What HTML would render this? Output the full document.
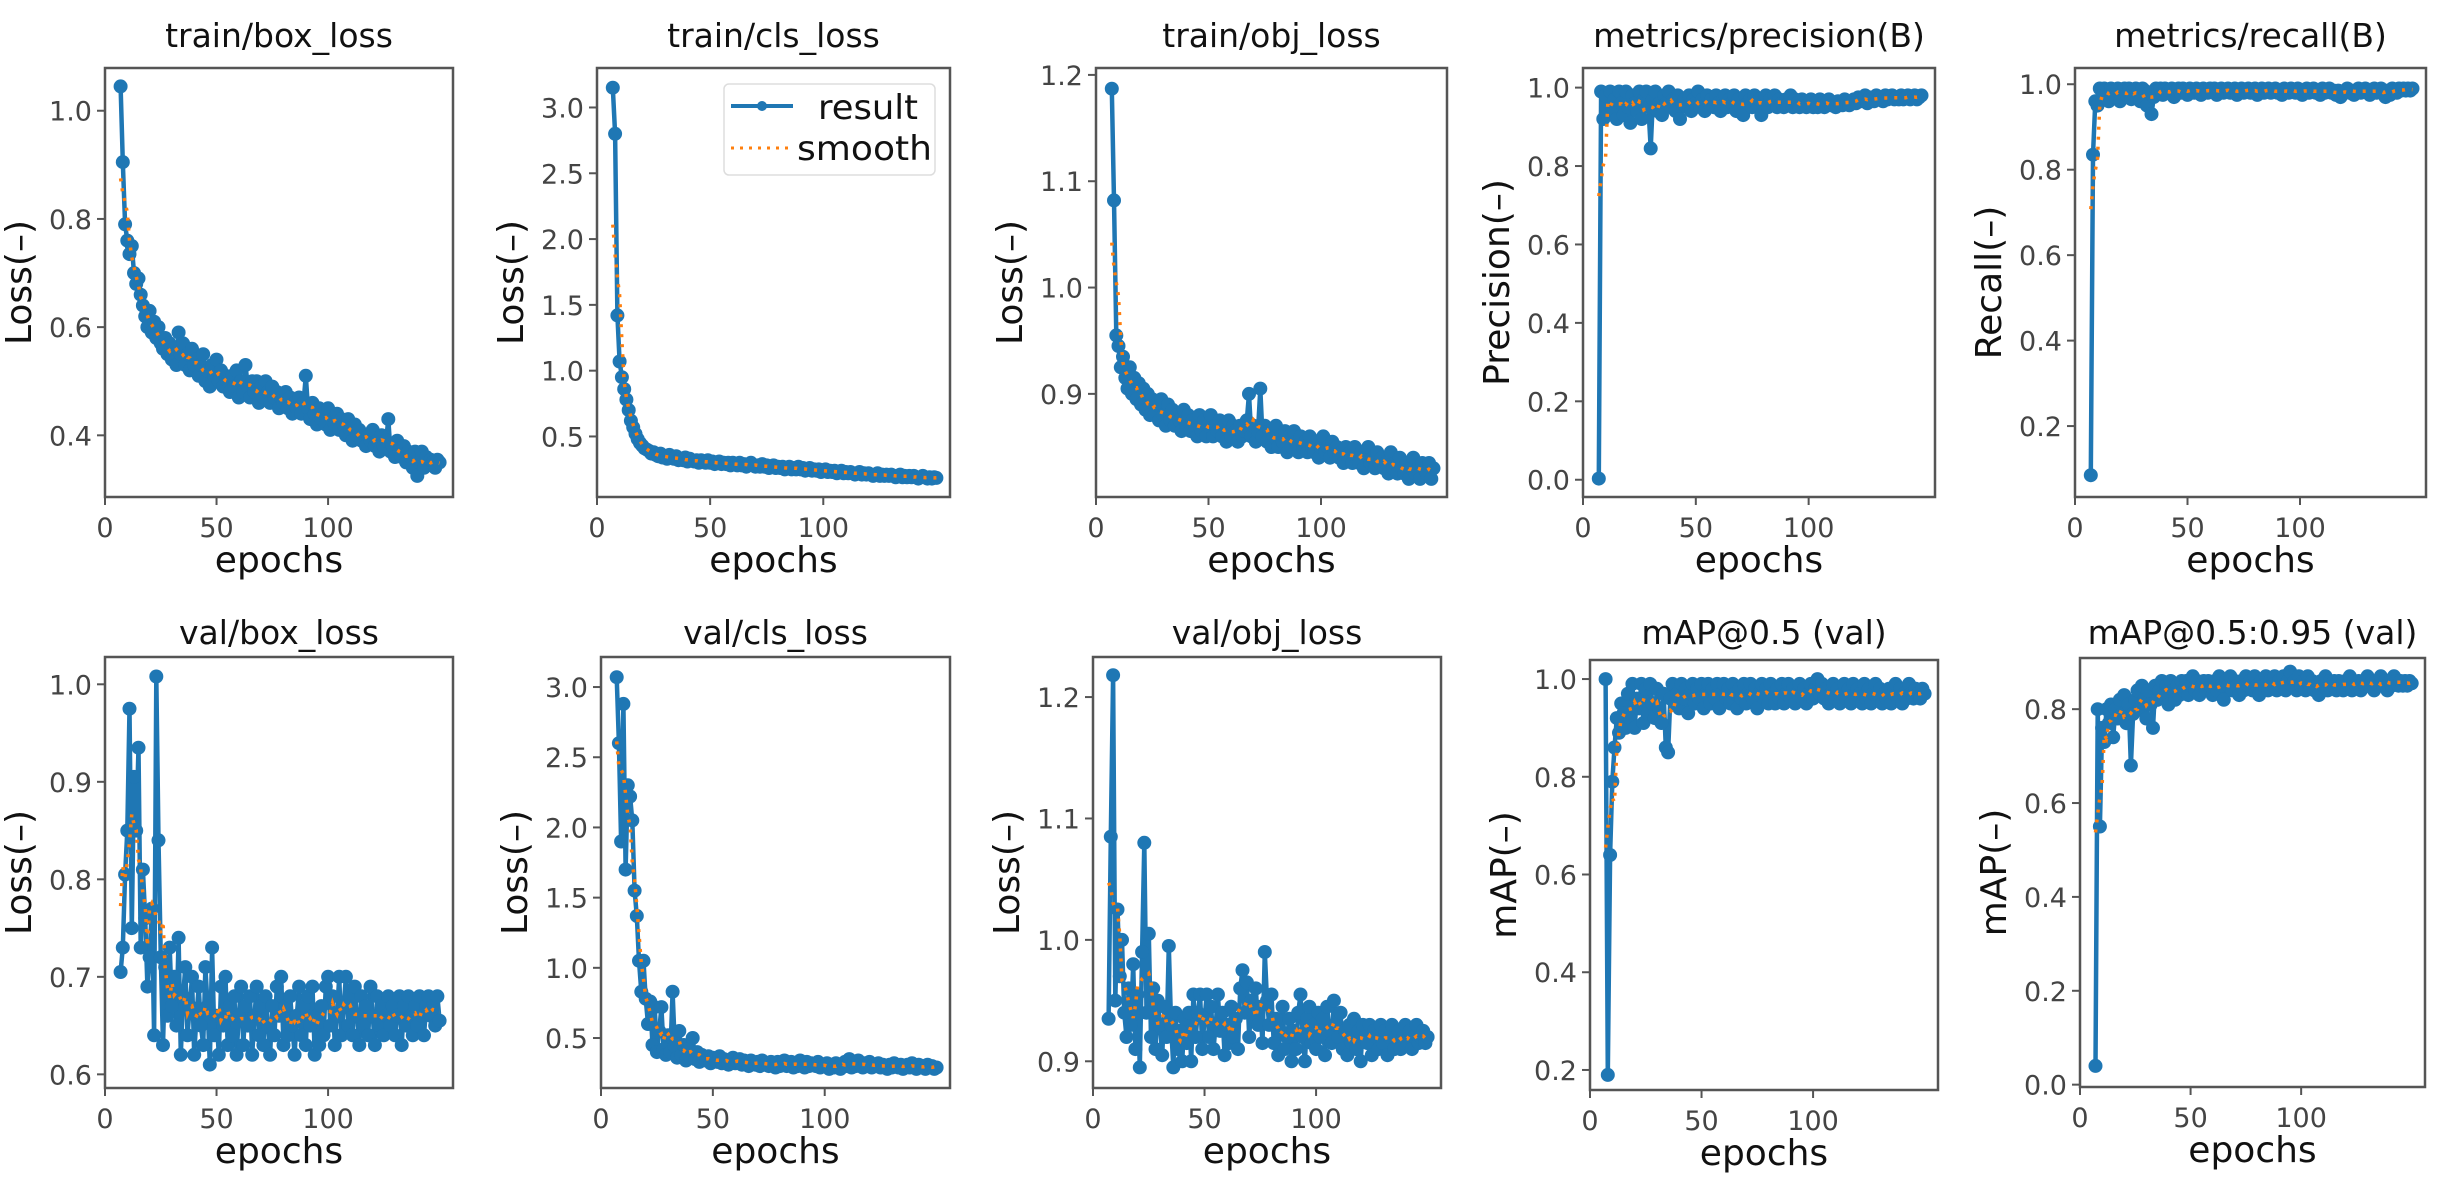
<!DOCTYPE html>
<html><head><meta charset="utf-8"><style>
html,body{margin:0;padding:0;background:#fff;}
svg{display:block;font-family:"DejaVu Sans","Liberation Sans",sans-serif;}
</style></head><body>
<svg id="fig" width="2438" height="1182" viewBox="0 0 2438 1182" xmlns="http://www.w3.org/2000/svg"></svg>
<script>
const epochs = []; for (let e = 7; e <= 150; e++) epochs.push(e);
const xTicks = [0, 50, 100];
const titles = ["train/box_loss","train/cls_loss","train/obj_loss","metrics/precision(B)","metrics/recall(B)","val/box_loss","val/cls_loss","val/obj_loss","mAP@0.5 (val)","mAP@0.5:0.95 (val)"];
const yLabels = ["Loss(–)","Loss(–)","Loss(–)","Precision(–)","Recall(–)","Loss(–)","Loss(–)","Loss(–)","mAP(–)","mAP(–)"];
const yTicks = [[0.4,0.6,0.8,1.0],[0.5,1.0,1.5,2.0,2.5,3.0],[0.9,1.0,1.1,1.2],[0.0,0.2,0.4,0.6,0.8,1.0],[0.2,0.4,0.6,0.8,1.0],[0.6,0.7,0.8,0.9,1.0],[0.5,1.0,1.5,2.0,2.5,3.0],[0.9,1.0,1.1,1.2],[0.2,0.4,0.6,0.8,1.0],[0.0,0.2,0.4,0.6,0.8]];
const yTickText = [["0.4","0.6","0.8","1.0"],["0.5","1.0","1.5","2.0","2.5","3.0"],["0.9","1.0","1.1","1.2"],["0.0","0.2","0.4","0.6","0.8","1.0"],["0.2","0.4","0.6","0.8","1.0"],["0.6","0.7","0.8","0.9","1.0"],["0.5","1.0","1.5","2.0","2.5","3.0"],["0.9","1.0","1.1","1.2"],["0.2","0.4","0.6","0.8","1.0"],["0.0","0.2","0.4","0.6","0.8"]];

const trainBoxLoss = [1.045,0.905,0.79,0.76,0.735,0.75,0.70,0.68,0.69,0.66,
0.64,0.62,0.60,0.63,0.59,0.61,0.58,0.60,0.57,0.56,
0.58,0.55,0.57,0.54,0.56,0.53,0.59,0.55,0.57,0.53,
0.55,0.52,0.56,0.53,0.54,0.51,0.53,0.55,0.50,0.52,
0.49,0.53,0.51,0.54,0.50,0.52,0.49,0.51,0.50,0.48,
0.51,0.49,0.52,0.47,0.50,0.48,0.53,0.49,0.47,0.50,
0.48,0.50,0.46,0.49,0.47,0.50,0.48,0.46,0.49,0.47,
0.48,0.45,0.47,0.46,0.48,0.45,0.47,0.44,0.46,0.45,
0.47,0.44,0.46,0.51,0.45,0.43,0.46,0.44,0.42,0.45,
0.43,0.44,0.42,0.45,0.41,0.43,0.42,0.44,0.41,0.43,
0.42,0.40,0.43,0.41,0.39,0.42,0.40,0.41,0.39,0.40,
0.38,0.40,0.39,0.41,0.38,0.39,0.37,0.40,0.38,0.39,
0.43,0.37,0.38,0.36,0.39,0.37,0.36,0.38,0.35,0.37,
0.36,0.34,0.37,0.325,0.35,0.37,0.34,0.36,0.345,0.355,
0.35,0.34,0.355,0.35];
const trainClsLoss = [3.15,2.80,1.42,1.07,0.95,0.86,0.78,0.70,0.62,0.57,
0.52,0.48,0.45,0.43,0.41,0.40,0.39,0.37,0.38,0.36,
0.35,0.37,0.34,0.35,0.33,0.36,0.34,0.33,0.35,0.32,
0.33,0.32,0.34,0.31,0.33,0.32,0.31,0.32,0.30,0.32,
0.31,0.30,0.32,0.30,0.31,0.29,0.30,0.31,0.29,0.30,
0.29,0.30,0.28,0.30,0.29,0.28,0.30,0.28,0.29,0.27,
0.29,0.30,0.28,0.27,0.28,0.27,0.29,0.27,0.28,0.26,
0.27,0.28,0.26,0.27,0.26,0.27,0.25,0.26,0.27,0.25,
0.26,0.25,0.27,0.25,0.26,0.24,0.25,0.26,0.24,0.25,
0.24,0.25,0.23,0.24,0.25,0.23,0.24,0.23,0.24,0.22,
0.23,0.24,0.22,0.23,0.22,0.23,0.22,0.21,0.22,0.23,
0.21,0.22,0.21,0.22,0.21,0.20,0.21,0.22,0.20,0.21,
0.20,0.21,0.20,0.21,0.20,0.19,0.20,0.21,0.19,0.20,
0.19,0.20,0.19,0.20,0.19,0.18,0.19,0.20,0.19,0.18,
0.19,0.18,0.19,0.185];
const trainObjLoss = [1.187,1.082,0.955,0.945,0.925,0.935,0.915,0.905,0.925,0.90,
0.915,0.895,0.91,0.89,0.905,0.885,0.90,0.88,0.895,0.88,
0.89,0.875,0.895,0.88,0.87,0.89,0.875,0.885,0.87,0.88,
0.875,0.865,0.885,0.87,0.88,0.865,0.875,0.87,0.86,0.88,
0.865,0.875,0.86,0.87,0.88,0.86,0.87,0.865,0.875,0.86,
0.87,0.855,0.875,0.86,0.87,0.865,0.855,0.87,0.86,0.865,
0.875,0.90,0.86,0.87,0.855,0.865,0.905,0.86,0.87,0.855,
0.865,0.85,0.86,0.87,0.85,0.86,0.855,0.865,0.845,0.86,
0.85,0.865,0.855,0.845,0.86,0.85,0.855,0.845,0.86,0.85,
0.845,0.855,0.84,0.85,0.86,0.845,0.85,0.84,0.855,0.845,
0.85,0.84,0.845,0.835,0.85,0.84,0.845,0.835,0.85,0.84,
0.835,0.845,0.83,0.84,0.85,0.835,0.84,0.83,0.845,0.835,
0.84,0.83,0.835,0.825,0.845,0.83,0.835,0.825,0.84,0.83,
0.825,0.835,0.82,0.83,0.84,0.825,0.83,0.82,0.835,0.83,
0.825,0.835,0.82,0.83];
const precision = [0.003,0.99,0.92,0.98,0.93,0.99,0.95,0.97,0.92,0.99,
0.96,0.93,0.99,0.95,0.91,0.98,0.96,0.94,0.99,0.92,
0.97,0.99,0.95,0.845,0.97,0.99,0.94,0.96,0.93,0.98,
0.96,0.99,0.95,0.97,0.94,0.98,0.92,0.96,0.97,0.95,
0.98,0.94,0.97,0.96,0.99,0.95,0.97,0.94,0.98,0.96,
0.97,0.95,0.98,0.96,0.94,0.97,0.98,0.95,0.97,0.96,
0.98,0.94,0.97,0.95,0.93,0.98,0.96,0.97,0.95,0.98,
0.96,0.97,0.93,0.96,0.98,0.95,0.97,0.96,0.98,0.95,
0.97,0.96,0.95,0.97,0.96,0.98,0.95,0.97,0.96,0.95,
0.97,0.96,0.95,0.96,0.97,0.95,0.96,0.95,0.97,0.96,
0.95,0.96,0.97,0.955,0.96,0.95,0.965,0.96,0.955,0.97,
0.96,0.955,0.965,0.97,0.96,0.975,0.965,0.97,0.98,0.96,
0.975,0.97,0.965,0.98,0.97,0.975,0.965,0.98,0.97,0.975,
0.98,0.97,0.975,0.97,0.98,0.97,0.975,0.98,0.97,0.975,
0.98,0.97,0.975,0.98];
const recall = [0.085,0.835,0.96,0.95,0.99,0.97,0.99,0.98,0.96,0.99,
0.985,0.97,0.99,0.96,0.985,0.99,0.975,0.99,0.965,0.985,
0.99,0.98,0.96,0.99,0.985,0.95,0.98,0.93,0.97,0.99,
0.985,0.99,0.975,0.99,0.98,0.985,0.99,0.97,0.985,0.99,
0.98,0.99,0.985,0.975,0.99,0.985,0.98,0.99,0.985,0.975,
0.99,0.985,0.98,0.99,0.985,0.99,0.975,0.985,0.99,0.98,
0.985,0.99,0.98,0.985,0.99,0.975,0.985,0.99,0.98,0.985,
0.99,0.98,0.985,0.99,0.975,0.985,0.99,0.98,0.985,0.99,
0.98,0.985,0.99,0.98,0.985,0.975,0.99,0.985,0.98,0.99,
0.985,0.98,0.99,0.985,0.975,0.985,0.99,0.98,0.985,0.99,
0.98,0.985,0.975,0.99,0.98,0.985,0.99,0.98,0.985,0.975,
0.985,0.97,0.98,0.985,0.99,0.98,0.985,0.975,0.985,0.99,
0.98,0.985,0.99,0.98,0.975,0.985,0.99,0.98,0.985,0.99,
0.98,0.97,0.985,0.975,0.99,0.985,0.98,0.99,0.985,0.99,
0.985,0.99,0.985,0.99];
const valBoxLoss = [0.705,0.73,0.805,0.85,0.975,0.75,0.905,0.85,0.935,0.73,
0.81,0.76,0.69,0.72,0.77,0.64,1.008,0.84,0.72,0.63,
0.71,0.66,0.73,0.67,0.70,0.65,0.74,0.62,0.68,0.71,
0.64,0.67,0.70,0.62,0.66,0.69,0.65,0.63,0.71,0.67,
0.61,0.73,0.64,0.66,0.62,0.69,0.65,0.70,0.63,0.67,
0.64,0.68,0.62,0.66,0.69,0.63,0.67,0.65,0.68,0.62,
0.66,0.69,0.64,0.67,0.63,0.68,0.65,0.62,0.67,0.64,
0.69,0.66,0.70,0.63,0.67,0.64,0.68,0.65,0.62,0.66,
0.69,0.64,0.67,0.63,0.68,0.65,0.69,0.62,0.66,0.63,
0.67,0.64,0.69,0.70,0.65,0.68,0.63,0.66,0.70,0.64,
0.67,0.70,0.65,0.68,0.64,0.69,0.66,0.63,0.68,0.65,
0.67,0.64,0.69,0.66,0.63,0.68,0.65,0.67,0.64,0.66,
0.68,0.65,0.67,0.64,0.66,0.68,0.63,0.67,0.65,0.68,
0.66,0.64,0.67,0.65,0.68,0.66,0.64,0.67,0.68,0.66,
0.67,0.65,0.68,0.655];
const valClsLoss = [3.07,2.60,1.90,2.88,1.70,2.30,2.22,2.05,1.55,1.37,
1.05,0.83,1.05,0.78,0.60,0.76,0.45,0.72,0.40,0.55,
0.72,0.42,0.38,0.52,0.40,0.83,0.44,0.36,0.55,0.38,
0.45,0.34,0.42,0.36,0.50,0.35,0.40,0.33,0.38,0.36,
0.34,0.37,0.32,0.36,0.34,0.33,0.37,0.32,0.35,0.33,
0.31,0.34,0.36,0.32,0.33,0.35,0.31,0.34,0.32,0.30,
0.34,0.32,0.31,0.33,0.30,0.34,0.31,0.32,0.30,0.33,
0.31,0.29,0.33,0.30,0.32,0.34,0.30,0.31,0.33,0.29,
0.32,0.30,0.34,0.31,0.29,0.33,0.30,0.32,0.31,0.30,
0.33,0.29,0.31,0.30,0.32,0.28,0.31,0.29,0.32,0.30,
0.28,0.31,0.33,0.30,0.35,0.29,0.32,0.30,0.34,0.31,
0.29,0.32,0.30,0.33,0.29,0.31,0.30,0.32,0.29,0.31,
0.30,0.28,0.31,0.29,0.32,0.30,0.29,0.31,0.28,0.30,
0.31,0.29,0.32,0.30,0.28,0.31,0.29,0.30,0.28,0.31,
0.29,0.30,0.28,0.29];
const valObjLoss = [0.935,1.085,1.218,0.95,1.025,0.97,1.0,0.94,0.92,0.96,
0.93,0.98,0.91,0.955,0.895,0.99,1.08,0.94,1.005,0.92,
0.96,0.91,0.95,0.93,0.905,0.945,0.92,0.995,0.93,0.895,
0.94,0.91,0.925,0.90,0.935,0.915,0.94,0.90,0.955,0.92,
0.94,0.955,0.91,0.935,0.955,0.92,0.945,0.91,0.93,0.955,
0.925,0.94,0.905,0.93,0.915,0.945,0.92,0.935,0.91,0.96,
0.975,0.94,0.965,0.92,0.95,0.935,0.96,0.93,0.945,0.915,
0.99,0.95,0.93,0.955,0.915,0.935,0.905,0.925,0.945,0.91,
0.92,0.935,0.90,0.925,0.91,0.94,0.955,0.92,0.90,0.935,
0.945,0.915,0.93,0.91,0.94,0.92,0.935,0.905,0.945,0.925,
0.915,0.95,0.93,0.92,0.94,0.91,0.925,0.905,0.93,0.915,
0.935,0.91,0.925,0.90,0.93,0.92,0.915,0.93,0.905,0.925,
0.92,0.91,0.93,0.915,0.925,0.905,0.92,0.93,0.91,0.92,
0.925,0.91,0.92,0.93,0.915,0.925,0.91,0.92,0.93,0.915,
0.92,0.925,0.915,0.92];
const map50 = [1.0,0.19,0.64,0.79,0.86,0.92,0.89,0.95,0.93,0.90,
0.97,0.92,0.99,0.90,0.96,0.94,0.99,0.91,0.98,0.93,
0.99,0.95,0.92,0.98,0.94,0.91,0.97,0.86,0.85,0.96,
0.99,0.95,0.97,0.94,0.99,0.96,0.98,0.93,0.97,0.99,
0.95,0.98,0.96,0.99,0.94,0.97,0.99,0.95,0.98,0.96,
0.99,0.94,0.97,0.99,0.96,0.98,0.95,0.99,0.97,0.94,
0.98,0.96,0.99,0.95,0.97,0.99,0.96,0.98,0.94,0.97,
0.99,0.96,0.98,0.95,0.99,0.97,0.95,0.98,0.96,0.99,
0.95,0.97,0.99,0.96,0.98,0.95,0.97,0.99,0.96,0.98,
0.95,0.97,0.99,0.96,0.98,1.0,0.97,0.99,0.96,0.98,
0.95,0.97,0.99,0.96,0.98,0.95,0.97,0.99,0.96,0.98,
0.95,0.99,0.96,0.98,0.97,0.95,0.99,0.96,0.98,0.95,
0.97,0.99,0.96,0.98,0.95,0.97,0.96,0.98,0.95,0.97,
0.99,0.96,0.98,0.95,0.97,0.96,0.99,0.97,0.96,0.98,
0.97,0.96,0.98,0.97];
const map5095 = [0.04,0.80,0.55,0.76,0.73,0.80,0.77,0.81,0.74,0.80,
0.78,0.82,0.79,0.83,0.77,0.81,0.68,0.79,0.82,0.84,
0.80,0.85,0.82,0.78,0.84,0.81,0.76,0.85,0.82,0.84,
0.86,0.83,0.85,0.81,0.86,0.84,0.82,0.85,0.83,0.86,
0.84,0.86,0.83,0.85,0.87,0.84,0.86,0.83,0.85,0.86,
0.84,0.86,0.85,0.83,0.86,0.84,0.87,0.85,0.82,0.86,
0.85,0.87,0.84,0.86,0.85,0.83,0.86,0.84,0.87,0.85,
0.86,0.84,0.87,0.85,0.83,0.86,0.85,0.87,0.84,0.86,
0.85,0.87,0.84,0.86,0.85,0.87,0.84,0.86,0.88,0.85,
0.86,0.84,0.87,0.85,0.86,0.84,0.87,0.85,0.86,0.84,
0.85,0.83,0.86,0.85,0.87,0.84,0.86,0.85,0.86,0.84,
0.86,0.85,0.84,0.86,0.85,0.87,0.84,0.86,0.85,0.86,
0.84,0.86,0.85,0.87,0.85,0.86,0.84,0.86,0.85,0.87,
0.85,0.86,0.84,0.86,0.85,0.87,0.86,0.85,0.86,0.85,
0.86,0.85,0.86,0.855];

const seriesList = [trainBoxLoss,trainClsLoss,trainObjLoss,precision,recall,valBoxLoss,valClsLoss,valObjLoss,map50,map5095];
const slugs = ["train-box-loss","train-cls-loss","train-obj-loss","precision","recall","val-box-loss","val-cls-loss","val-obj-loss","map50","map50-95"];

const frames = [
 {x0:105,x1:453,y0:68,y1:497,ymin:0.286,ymax:1.079},
 {x0:597,x1:950,y0:68,y1:497,ymin:0.04,ymax:3.30},
 {x0:1096,x1:1447,y0:68,y1:497,ymin:0.803,ymax:1.2065},
 {x0:1583,x1:1935,y0:68,y1:497,ymin:-0.044,ymax:1.05},
 {x0:2075,x1:2426,y0:68,y1:497,ymin:0.034,ymax:1.038},
 {x0:105,x1:453,y0:657,y1:1088,ymin:0.586,ymax:1.028},
 {x0:601,x1:950,y0:657,y1:1088,ymin:0.144,ymax:3.214},
 {x0:1093,x1:1441,y0:657,y1:1088,ymin:0.878,ymax:1.233},
 {x0:1590,x1:1938,y0:660,y1:1090,ymin:0.159,ymax:1.039},
 {x0:2080,x1:2425,y0:658,y1:1087,ymin:-0.005,ymax:0.909}
];
const XMIN = 0, XMAX = 156;
const NS = "http://www.w3.org/2000/svg";
const svg = document.getElementById('fig');
function mk(tag, attrs, parent){ const el=document.createElementNS(NS,tag); for(const k in attrs) el.setAttribute(k,attrs[k]); (parent||svg).appendChild(el); return el; }
function smooth(v){ const out=[]; const w=3; for(let i=0;i<v.length;i++){ let s=0,c=0; for(let j=Math.max(0,i-w);j<=Math.min(v.length-1,i+w);j++){s+=v[j];c++;} out.push(s/c);} return out; }

frames.forEach((f,idx)=>{
  const xs = e => f.x0 + (e - XMIN)/(XMAX - XMIN)*(f.x1 - f.x0);
  const ys = v => f.y1 - (v - f.ymin)/(f.ymax - f.ymin)*(f.y1 - f.y0);
  const g = mk('g',{});
  
  
  const clipId = 'clip'+idx;
  const cp = mk('clipPath',{id:clipId}, g); mk('rect',{x:f.x0-2,y:f.y0,width:f.x1-f.x0+4,height:f.y1-f.y0},cp);
  const t = mk('text',{x:(f.x0+f.x1)/2, y: idx<5 ? 47 : 644, 'text-anchor':'middle','font-size':33,fill:'#111'}, g);
  t.textContent = titles[idx];
  
  
  const vals = seriesList[idx];
  const dg = mk('g',{'clip-path':'url(#'+clipId+')'}, g);
  
  
  const pts = vals.map((v,i)=>xs(epochs[i]).toFixed(1)+','+ys(v).toFixed(1)).join(' ');
  mk('polyline',{points:pts,fill:'none',stroke:'#1f77b4','stroke-width':4.5,'stroke-linejoin':'round'}, dg);
  vals.forEach((v,i)=>{ const c = mk('circle',{cx:xs(epochs[i]).toFixed(1),cy:ys(v).toFixed(1),r:7,fill:'#1f77b4'}, dg);
    
     });
  const sm = smooth(vals);
  const sp = mk('polyline',{points:sm.map((v,i)=>xs(epochs[i]).toFixed(1)+','+ys(v).toFixed(1)).join(' '),fill:'none',stroke:'#ff7f0e','stroke-width':3.5,'stroke-dasharray':'3 7'}, dg);
  
  
  const fr = mk('rect',{x:f.x0,y:f.y0,width:f.x1-f.x0,height:f.y1-f.y0,fill:'none',stroke:'#555','stroke-width':2.5}, g);
  
  
  xTicks.forEach(tv=>{ const x=xs(tv); mk('line',{x1:x,x2:x,y1:f.y1,y2:f.y1+8,stroke:'#555','stroke-width':2},g);
    const tl = mk('text',{x:x,y:f.y1+40,'text-anchor':'middle','font-size':27,fill:'#444'},g); tl.textContent=String(tv);
    
     });
  yTicks[idx].forEach((tv,k)=>{ const y=ys(tv); mk('line',{x1:f.x0-8,x2:f.x0,y1:y,y2:y,stroke:'#555','stroke-width':2},g);
    const tl = mk('text',{x:f.x0-13,y:y+10,'text-anchor':'end','font-size':27,fill:'#444'},g); tl.textContent=yTickText[idx][k];
    
     });
  const xl = mk('text',{x:(f.x0+f.x1)/2,y:f.y1+75,'text-anchor':'middle','font-size':36,fill:'#111'},g); xl.textContent='epochs';
  
  
  const cy=(f.y0+f.y1)/2, cx=f.x0-74;
  const yl = mk('text',{x:cx,y:cy,'text-anchor':'middle','font-size':36,fill:'#111',transform:'rotate(-90 '+cx+' '+cy+')'},g); yl.textContent=yLabels[idx];
  
  
});

const lg = mk('g',{});


mk('rect',{x:724,y:84,width:211,height:91,rx:5,fill:'#fff',stroke:'#ddd','stroke-width':1.5},lg);
const le1 = mk('g',{},lg);


mk('line',{x1:731,x2:793,y1:106,y2:106,stroke:'#1f77b4','stroke-width':4},le1);
mk('circle',{cx:762,cy:106,r:5,fill:'#1f77b4'},le1);
const lt1 = mk('text',{x:818,y:119,'font-size':34,fill:'#111',textLength:100,lengthAdjust:'spacingAndGlyphs'},le1); lt1.textContent='result';
const le2 = mk('g',{},lg);


mk('line',{x1:731,x2:790,y1:148,y2:148,stroke:'#ff7f0e','stroke-width':3,'stroke-dasharray':'3 6'},le2);
const lt2 = mk('text',{x:797,y:160,'font-size':34,fill:'#111',textLength:135,lengthAdjust:'spacingAndGlyphs'},le2); lt2.textContent='smooth';
</script>
</body></html>
